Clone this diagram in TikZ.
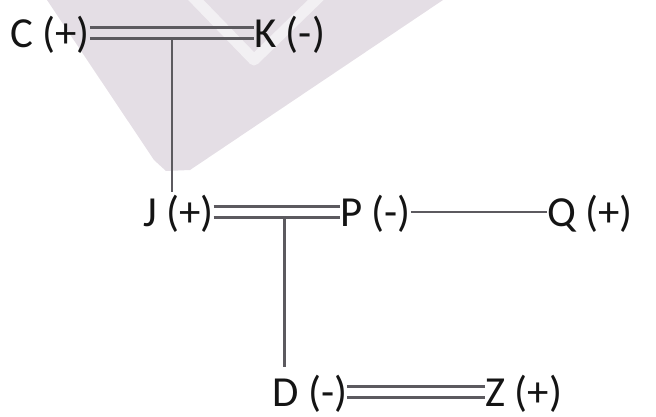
\documentclass[tikz,border=0pt]{standalone}
\usepackage{fontspec}
\setmainfont{Carlito}
\usetikzlibrary{calc}
\definecolor{wmcol}{RGB}{228,222,229}
\definecolor{lncol}{RGB}{92,90,95}
\definecolor{txtcol}{RGB}{20,20,20}
\tikzset{
  lbl/.style={inner sep=0pt, outer sep=0pt, anchor=base west, text=txtcol,
              font=\fontsize{43}{50}\selectfont},
  ln/.style={draw=lncol, line width=2.6bp},
}
\begin{document}
\begin{tikzpicture}[x=1bp, y=-1bp]
\useasboundingbox (0,0) rectangle (656,416);
% watermark
\fill[wmcol] (47,0) -- (154,160) -- (166,171) -- (190,170) -- (443,0) -- cycle;
\draw[white, opacity=0.55, line width=11bp, line join=round] (190,-6) -- (254,60) -- (322,-6);
% labels
\node[lbl] (C) at (10,47) {C (+)};
\node[lbl] (K) at (254,47) {K (-)};
\node[lbl] (J) at (143,226) {J (+)};
\node[lbl] (P) at (340,226) {P (-)};
\node[lbl] (Q) at (547,226) {Q (+)};
\node[lbl] (D) at (272,406) {D (-)};
\node[lbl] (Z) at (485,406) {Z (+)};
% C = K
\draw[ln] ([yshift=19.5bp]C.base east) -- ([yshift=19.5bp]K.base west);
\draw[ln] ([yshift=8.5bp]C.base east) -- ([yshift=8.5bp]K.base west)
  coordinate[pos=0.5] (ck);
% J = P
\draw[ln] ([yshift=19.5bp]J.base east) -- ([yshift=19.5bp]P.base west);
\draw[ln] ([yshift=8.5bp]J.base east) -- ([yshift=8.5bp]P.base west)
  coordinate[pos=0.56] (jp);
% P - Q
\draw[ln] ([yshift=14bp]P.base east) -- ([yshift=14bp]Q.base west);
% D = Z
\draw[ln] ([yshift=19.5bp]D.base east) -- ([yshift=19.5bp]Z.base west);
\draw[ln] ([yshift=8.5bp]D.base east) -- ([yshift=8.5bp]Z.base west);
% verticals
\draw[ln] (ck) -- ($(ck |- J.base)+(0,-34)$);
\draw[ln] (jp) -- ($(jp |- D.base)+(0,-39)$);
\end{tikzpicture}
\end{document}
